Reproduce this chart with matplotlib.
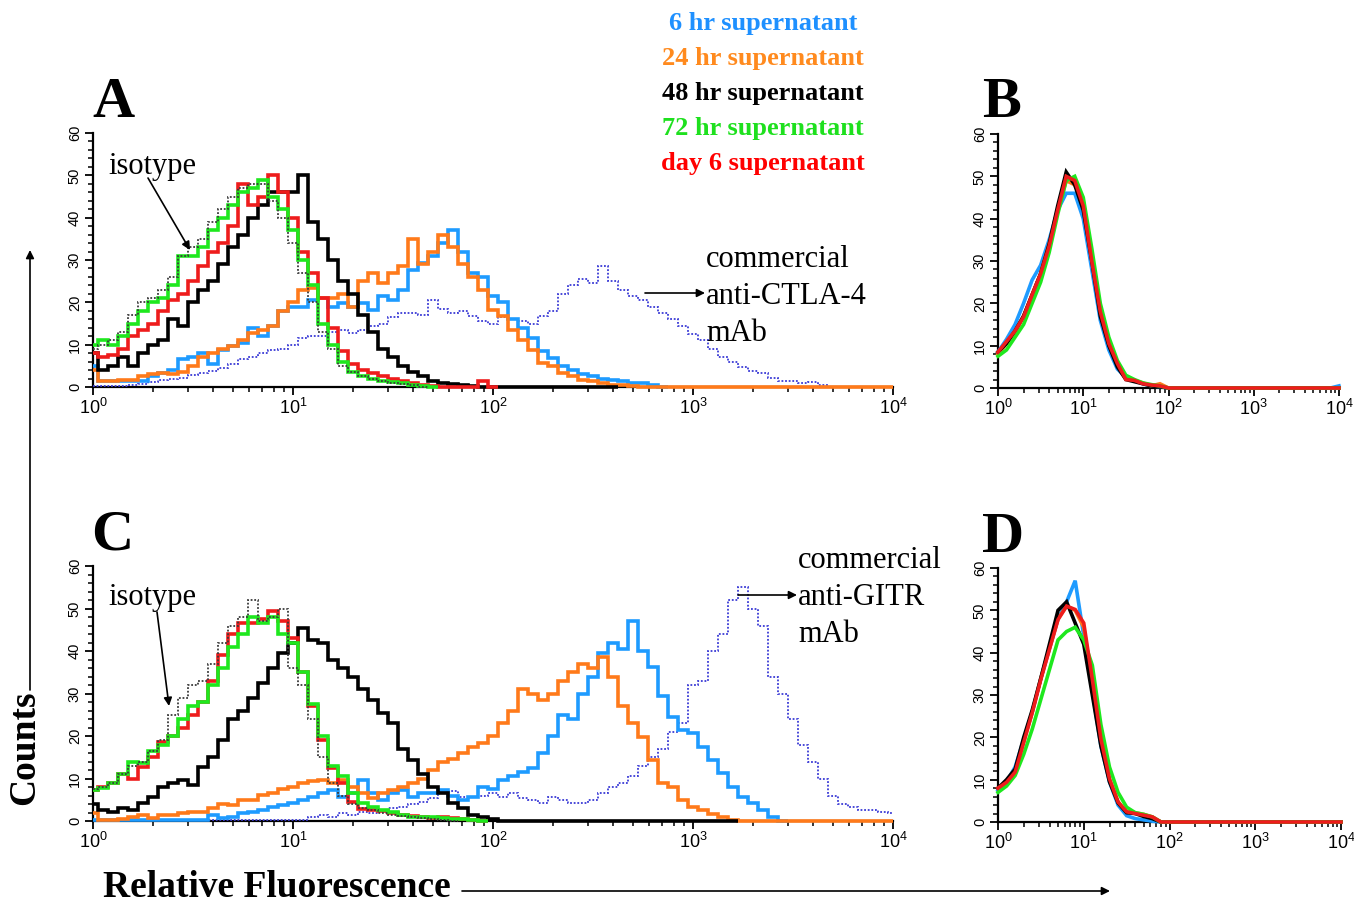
"""
Flow cytometry histograms: supernatant staining vs. isotype / commercial mAb.
Output: out.png
"""

import numpy as np
import matplotlib.pyplot as plt
from matplotlib.patches import FancyArrowPatch
from matplotlib.ticker import LogLocator, MultipleLocator, NullFormatter

W, H = 1354, 907

# ---- data: counts per log-channel bin -------------------------------------
# panels A and C: bins every 0.05 decade from 10^0
STEP_AC = 0.05

A_iso = [9, 10, 11, 13, 17, 20, 21, 23, 26, 31, 33, 35, 39, 42, 45, 47, 48, 48,
         44, 40, 34, 27, 20, 13, 9, 5, 3.5, 2.5, 2, 1.5, 1, 0.8, 0.5, 0]
A_blue = [5, 1.5, 1.3, 1.5, 1.5, 1.3, 2.5, 3.3, 4, 6.5, 7.2, 8, 5.5, 8.8, 9.6,
          10.4, 14, 12, 14.3, 18, 19, 19, 20.6, 21, 19, 19.8, 19, 19.8, 18.3,
          21.4, 20.6, 23, 27.7, 29.3, 31, 34, 37, 32, 27, 26, 21.4, 20, 16, 14,
          11.5, 8.5, 6.8, 5, 4, 3, 2.5, 2, 1.7, 1.3, 1, 1, 0.5, 0]
A_orange = [4, 1.3, 1.3, 1.7, 1.7, 2.5, 3, 3.3, 3, 3.5, 5, 7, 8, 9, 9.6, 11,
            12.8, 13.5, 14.3, 18, 20, 23, 23.5, 21, 21, 22, 19, 25, 27, 24.6,
            27, 28.5, 35, 29, 32, 36, 33, 29, 26, 23, 18.3, 16.7, 13.5, 11.2,
            8.8, 5.7, 4.9, 3.3, 2.5, 1.7, 1.3, 1, 0.5, 0.5, 0.3, 0,
            0, 0, 0, 0, 0, 0, 0, 0, 0, 0, 0, 0, 0, 0, 0, 0, 0, 0, 0, 0, 0, 0,
            0, 0, 0]
A_black = [8, 4, 5, 7, 5, 8, 10, 11, 16, 14.5, 20, 23, 25, 29, 33, 36, 40, 43,
           46, 46, 46, 50, 39, 35, 30, 25, 22, 17, 13, 9, 7, 5, 3.5, 2.5, 1.5,
           1, 0.7, 0.5, 0.3, 0, 0, 0, 0, 0, 0, 0, 0, 0, 0, 0, 0, 0, 0]
A_red = [8, 7, 7.5, 9, 12, 13.5, 15, 18, 20.5, 22, 25, 28.5, 32, 34, 38, 48,
         43, 45, 50, 46, 40, 32, 27, 21, 14, 8.5, 5.5, 4, 3.3, 2.5, 2, 1.5, 1,
         0.5, 0.2, 0, 0, 0, 0, 1.5, 0]
A_green = [10, 11, 10, 12, 15, 18, 20, 21, 24, 31, 31, 33, 37, 40, 43, 46, 47,
           49, 45, 42, 37, 30, 24, 15, 10, 6, 3.5, 2.5, 2, 1.5, 1.2, 1, 0.5,
           0.3, 0]
A_comm = [0.3, 0.3, 0.3, 0.2, 0.5, 0.8, 1.2, 1.7, 1.8, 2.2, 2.8, 3.4, 3.7, 4.5,
          5.5, 6.5, 7, 8, 8.8, 9, 10, 11.5, 12, 12, 13, 13.5, 12.8, 13.5, 14.5,
          15, 16.5, 17.5, 17.5, 17, 20.5, 18.5, 17.5, 18, 16.7, 15.5, 15, 16.5,
          16, 15.5, 15, 16.7, 18, 22, 24, 25.4, 24.6, 28.5, 25, 23, 21.5, 20.6,
          19, 17.5, 16, 14.3, 12.5, 11, 9, 7.2, 6, 4.8, 3.8, 3.3, 2.2, 1.5,
          1.3, 1, 1.2, 0.5, 0]

C_iso = [7.5, 8, 9, 11, 13, 14, 16.5, 19, 25, 29, 32, 33, 37, 42, 46, 48, 52,
         47, 48, 50, 36, 32, 24, 15, 9, 6, 4, 3, 2.5, 2, 1.5, 1.2, 1, 0.8, 0.5,
         0.3, 0]
C_blue = [0.3, 0.3, 0.3, 0.3, 0.3, 0.3, 0.3, 0.3, 0.3, 0.3, 0.3, 0.3, 1.4, 0.6,
          1, 1.8, 2.2, 2.6, 3.4, 3.8, 4.2, 4.9, 5.7, 6.5, 7.3, 5.7, 6.5, 9.6,
          6.5, 4.9, 6.5, 7.3, 5.7, 6.5, 6.5, 7.3, 6, 4.9, 5.7, 8, 7.5, 9.6,
          10.5, 11.5, 12.5, 16, 20, 25, 24, 30, 34, 39.5, 42, 40.5, 47, 40,
          36.3, 29.3, 24.5, 21.4, 20.6, 17.5, 14.4, 11.2, 8.1, 5.7, 4.2, 2.6,
          1, 0]
C_orange = [1.8, 0.3, 0.3, 0.5, 1, 1.4, 0.8, 1.4, 1.4, 1.8, 2.2, 2.2, 3, 4,
            3.8, 4.9, 5, 6.1, 6.5, 7.5, 8.1, 8.9, 9.3, 9.6, 8.9, 9.6, 8.1, 6.5,
            5.3, 6.5, 7.3, 8.1, 9, 10, 12, 14, 14.5, 16, 17.5, 18.3, 20, 23, 26,
            31, 30, 28.5, 30, 33, 35, 37, 36, 38.5, 34, 27, 23, 19.8, 14.4, 9,
            8, 5, 3.4, 2.6, 1.6, 0.9, 0.3, 0,
            0, 0, 0, 0, 0, 0, 0, 0, 0, 0, 0, 0, 0, 0, 0]
C_black = [4, 2.6, 2.2, 3, 2.6, 4.2, 5.7, 8, 9, 9.6, 8.5, 12.8, 15, 19, 24, 26,
           29, 32.4, 36, 39.5, 41.8, 45.5, 42.5, 42, 38, 36, 34, 31, 28.5,
           25.3, 23, 17, 14.4, 11, 8, 6.5, 4.2, 3, 1.5, 1, 0.5, 0,
           0, 0, 0, 0, 0, 0, 0, 0, 0, 0, 0, 0, 0, 0, 0, 0, 0, 0, 0, 0, 0, 0, 0]
C_red = [7.3, 8, 9, 11, 10, 12.8, 15, 18.5, 20, 22, 25, 28, 33, 39, 44, 46.5,
         46.5, 47.5, 49.5, 47, 43, 35, 27, 19, 12.5, 9, 4.5, 2.8, 2.6, 2.4, 1.8,
         1.4, 1.2, 1, 0.6, 1, 0.6, 0.4, 0.2, 0]
C_green = [7.3, 7.7, 9, 11, 14, 13.6, 16.5, 18, 20, 24, 27, 28, 32, 36, 41, 44,
           48, 46.5, 48, 44, 42, 35, 27.5, 20, 13, 10.5, 6.5, 4.3, 3.4, 2.6,
           2.2, 1.4, 1, 1, 0.9, 0.8, 0.5, 0.4, 0.3, 0]
C_comm = [0.3, 0.3, 0.3, 0.3, 0.3, 0.3, 0.3, 0.3, 0.3, 0.3, 0.3, 0.3, 0.3, 0.3,
          0.3, 0.3, 0.3, 0.3, 0.3, 0.3, 0.3, 0.3, 1, 1.4, 1, 1.8, 1.5, 2.2, 2,
          2.6, 3, 3.4, 4, 4.4, 5.5, 6.5, 7, 5.7, 5.7, 6, 6.5, 5.7, 6.5, 5.5,
          4.9, 4.2, 5.7, 5, 4.2, 4.2, 4.9, 6.5, 8, 8.9, 10.5, 13, 15, 17, 21,
          23, 32, 33, 40, 44, 52, 55, 50, 46, 34, 30, 24, 18, 14, 10, 6, 4, 3.2,
          2.6, 2.6, 2.2, 1.8]

# panels B and D: points every 0.1 decade from 10^0 to 10^4
STEP_BD = 0.1

B_blue = [8.5, 11.5, 15, 20, 25.5, 29, 35, 42, 46, 46, 40, 28, 16, 9, 4.5, 2.5,
          1.8, 1, 0.5, 0.3, 0, 0, 0, 0, 0, 0, 0, 0, 0, 0, 0, 0, 0, 0, 0, 0, 0,
          0, 0, 0, 0.5]
B_orange = [8, 10.5, 13, 17, 22, 27, 34, 42, 49, 48, 44, 31, 19, 11, 6, 2.5,
            1.8, 1.2, 0.5, 1, 0, 0, 0, 0, 0, 0, 0, 0, 0, 0, 0, 0, 0, 0, 0, 0,
            0, 0, 0, 0, 0]
B_black = [8.5, 10.5, 13.5, 17, 22, 27, 34, 43, 51, 48, 42, 30, 17, 10, 5, 2,
           1.5, 1, 0.5, 0.3, 0, 0, 0, 0, 0, 0, 0, 0, 0, 0, 0, 0, 0, 0, 0, 0, 0,
           0, 0, 0, 0]
B_green = [7.5, 9, 12, 15, 20, 25, 32, 41, 49, 50, 45, 33, 20, 12, 6.5, 3, 2,
           1.2, 0.8, 0.5, 0, 0, 0, 0, 0, 0, 0, 0, 0, 0, 0, 0, 0, 0, 0, 0, 0, 0,
           0, 0, 0]
B_red = [8.5, 11, 13.5, 16.8, 22, 27, 33.5, 42, 50, 49, 43, 30, 18, 10.5, 5.8,
         2, 1.8, 1, 0.7, 0.5, 0, 0, 0, 0, 0, 0, 0, 0, 0, 0, 0, 0, 0, 0, 0, 0, 0,
         0, 0, 0, 0]

D_blue = [7.5, 9.5, 13, 19.5, 26, 34, 41, 48, 52, 57, 44, 31, 18, 9.5, 4, 1.5,
          0.8, 0.5, 0.2, 0, 0, 0, 0, 0, 0, 0, 0, 0, 0, 0, 0, 0, 0, 0, 0, 0, 0,
          0, 0, 0, 0]
D_orange = [8, 9.5, 12, 19, 26, 34, 41, 48, 51, 50, 46, 33, 19, 10, 4.8, 2.4,
            2.2, 1.8, 1.2, 0, 0, 0, 0, 0, 0, 0, 0, 0, 0, 0, 0, 0, 0, 0, 0, 0,
            0, 0, 0, 0, 0]
D_black = [8, 10, 12.5, 20, 26.5, 34, 42, 50, 52, 47, 42, 30, 18, 9.5, 4.5,
           2.2, 2, 1.3, 0.8, 0, 0, 0, 0, 0, 0, 0, 0, 0, 0, 0, 0, 0, 0, 0, 0, 0,
           0, 0, 0, 0, 0]
D_green = [7, 8.5, 11, 16, 22, 29, 36, 43, 45, 46, 43, 37, 23, 13, 7, 3.5, 2.2,
           1.8, 1.2, 0, 0, 0, 0, 0, 0, 0, 0, 0, 0, 0, 0, 0, 0, 0, 0, 0, 0, 0,
           0, 0, 0]
D_red = [8, 9.4, 11.8, 18.8, 25.9, 33.7, 40.8, 47.8, 51, 50.2, 47, 33.7, 19.6,
         10.2, 4.7, 2.4, 2, 1.6, 1.2, 0, 0, 0, 0, 0, 0, 0, 0, 0, 0, 0, 0, 0, 0,
         0, 0, 0, 0, 0, 0, 0, 0]

LEGEND = ["6 hr supernatant", "24 hr supernatant", "48 hr supernatant",
          "72 hr supernatant", "day 6 supernatant"]

BLUE, ORANGE, BLACK, GREEN, RED = "#1E9BFF", "#FF7A1A", "#000000", "#1EE81E", "#EE1C1C"
COMM = "#3A3AD6"
ISO = "#3A3A3A"
LEGEND_COLORS = ["#1E90FF", "#FF8A1E", "#000000", "#1EE01E", "#FF0000"]

SERIF = "Liberation Serif"
plt.rcParams["font.family"] = "Liberation Sans"

fig = plt.figure(figsize=(W / 100, H / 100), dpi=100)


def fx(px):
    return px / W


def fy(py):
    return 1 - py / H


def make_axes(left, right, top, bottom):
    ax = fig.add_axes([fx(left), fy(bottom), (right - left) / W, (bottom - top) / H])
    ax.set_xscale("log")
    ax.set_xlim(1, 1e4)
    ax.set_ylim(0, 60)
    ax.spines[["top", "right"]].set_visible(False)
    for s in ("left", "bottom"):
        ax.spines[s].set_linewidth(1.6)
    ax.xaxis.set_major_locator(LogLocator(base=10, numticks=10))
    ax.xaxis.set_minor_locator(LogLocator(base=10, subs=np.arange(2, 10), numticks=50))
    ax.xaxis.set_minor_formatter(NullFormatter())
    ax.yaxis.set_major_locator(MultipleLocator(10))
    ax.yaxis.set_minor_locator(MultipleLocator(2))
    ax.tick_params(which="major", direction="out", length=6, width=1.3)
    ax.tick_params(which="minor", direction="out", length=3.5, width=1.1)
    ax.tick_params(axis="x", labelsize=13, pad=2)
    ax.tick_params(axis="y", labelsize=10.5, labelrotation=90, pad=2)
    for lab in ax.get_yticklabels():
        lab.set_va("center")
    ax.patch.set_alpha(0)
    return ax


def hist(ax, vals, color, lw=2.6, ls="-"):
    n = len(vals)
    edges = 10 ** np.clip(STEP_AC * (np.arange(n + 1) - 0.5), 0, 4)
    ax.stairs(vals, edges, baseline=None, color=color, lw=lw, ls=ls,
              clip_on=False, zorder=3)


def line(ax, vals, color, lw=2.6):
    x = 10 ** (STEP_BD * np.arange(len(vals)))
    ax.plot(x, vals, color=color, lw=lw, clip_on=False, zorder=3,
            solid_joinstyle="miter")


def arrow(x0, y0, x1, y1, scale=14):
    fig.add_artist(FancyArrowPatch((fx(x0), fy(y0)), (fx(x1), fy(y1)),
                                   transform=fig.transFigure, arrowstyle="-|>",
                                   mutation_scale=scale, lw=1.2, color="black",
                                   shrinkA=0, shrinkB=0))


dotted = (0, (1, 1))

axA = make_axes(93, 893, 133, 387)
hist(axA, A_comm, COMM, lw=1.3, ls=dotted)
hist(axA, A_blue, BLUE)
hist(axA, A_orange, ORANGE)
hist(axA, A_black, BLACK)
hist(axA, A_red, RED)
hist(axA, A_green, GREEN)
hist(axA, A_iso, ISO, lw=1.3, ls=dotted)

axC = make_axes(93, 893, 566, 821)
hist(axC, C_comm, COMM, lw=1.3, ls=dotted)
hist(axC, C_blue, BLUE)
hist(axC, C_orange, ORANGE)
hist(axC, C_black, BLACK)
hist(axC, C_red, RED)
hist(axC, C_green, GREEN)
hist(axC, C_iso, ISO, lw=1.3, ls=dotted)

axB = make_axes(998, 1339, 134, 388)
for vals, col in [(B_blue, BLUE), (B_orange, ORANGE), (B_black, BLACK),
                  (B_green, GREEN), (B_red, RED)]:
    line(axB, vals, col)

axD = make_axes(998, 1341, 568, 822)
for vals, col in [(D_blue, BLUE), (D_orange, ORANGE), (D_black, BLACK),
                  (D_green, GREEN), (D_red, RED)]:
    line(axD, vals, col)

# panel letters
for letter, x, y in [("A", 92, 117), ("B", 982, 117), ("C", 91, 549), ("D", 982, 552)]:
    fig.text(fx(x), fy(y), letter, family=SERIF, fontsize=42, fontweight="bold",
             ha="left", va="baseline")

# legend text
for i, (txt, col) in enumerate(zip(LEGEND, LEGEND_COLORS)):
    fig.text(fx(763), fy(30 + 35 * i), txt, family=SERIF, fontsize=19,
             fontweight="bold", color=col, ha="center", va="baseline")

# annotations
fig.text(fx(108), fy(174), "isotype", family=SERIF, fontsize=22, va="baseline")
arrow(148, 178, 190, 250, scale=12)
fig.text(fx(108), fy(605), "isotype", family=SERIF, fontsize=22, va="baseline")
arrow(157, 612, 169, 706, scale=12)

for j, txt in enumerate(["commercial", "anti-CTLA-4", "mAb"]):
    fig.text(fx(706), fy(267 + 37 * j), txt, family=SERIF, fontsize=22, va="baseline")
arrow(645, 293, 705, 293, scale=12)

for j, txt in enumerate(["commercial", "anti-GITR", "mAb"]):
    fig.text(fx(798), fy(568 + 37 * j), txt, family=SERIF, fontsize=22, va="baseline")
arrow(738, 595, 797, 595, scale=12)

# shared axis titles
fig.text(fx(25), fy(748), "Counts", family=SERIF, fontsize=27, fontweight="bold",
         rotation=90, ha="center", va="center")
arrow(30, 690, 30, 250, scale=12)
fig.text(fx(103), fy(897), "Relative Fluorescence", family=SERIF, fontsize=27,
         fontweight="bold", ha="left", va="baseline")
arrow(462, 891, 1110, 891, scale=12)

fig.savefig("out.png", dpi=100)
